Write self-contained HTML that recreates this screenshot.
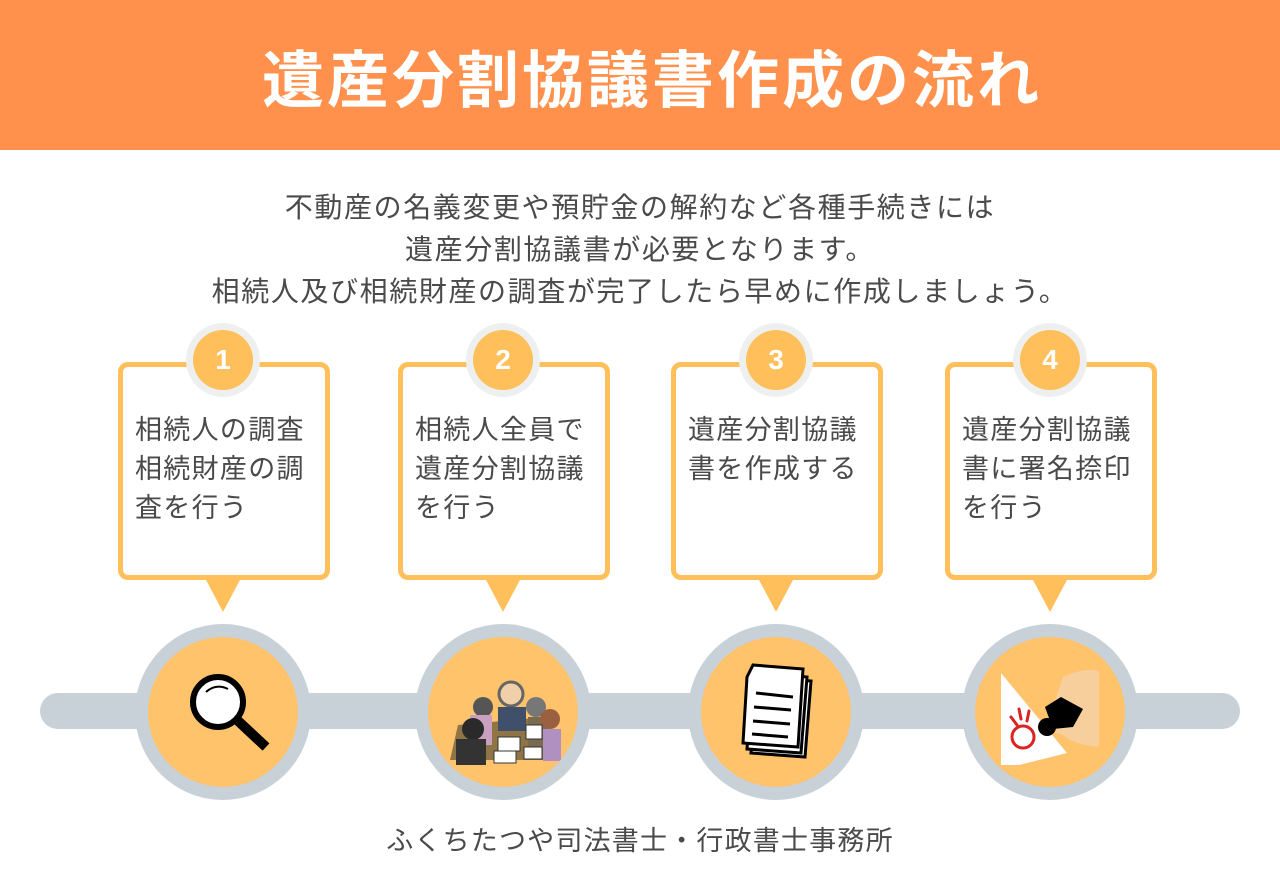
<!DOCTYPE html>
<html><head><meta charset="utf-8">
<style>
*{margin:0;padding:0;box-sizing:border-box}
body{width:1280px;height:878px;background:#fff;position:relative;overflow:hidden;font-family:"Liberation Sans","Noto Sans CJK JP",sans-serif;color:#4a4a4a}
.hdr{position:absolute;left:0;top:0;width:1280px;height:150px;background:#FF914D}
.title{position:absolute;left:12px;top:42px;width:1280px;text-align:center;color:#fff;font-weight:bold;font-size:62px;line-height:80px;letter-spacing:3px}
.intro{position:absolute;left:0;top:187px;width:1280px;text-align:center;font-size:28px;line-height:42px;letter-spacing:1.6px;color:#4a4a4a}
.box{position:absolute;top:362px;width:212px;height:218px;border:5px solid #FFBF5A;border-radius:10px;background:#fff}
.box p{position:absolute;left:12px;top:44px;font-size:27px;line-height:39px;letter-spacing:1.3px;color:#4a4a4a}
.tri{position:absolute;top:578px;width:0;height:0;border-left:18px solid transparent;border-right:18px solid transparent;border-top:34px solid #FFBF5A}
.num{position:absolute;top:323px;width:74px;height:74px;border-radius:50%;background:#eef0f0}
.num span{position:absolute;left:7px;top:7px;width:60px;height:60px;border-radius:50%;background:#FFBF5A;color:#fff;font-weight:bold;font-size:28px;line-height:60px;text-align:center}
.bar{position:absolute;left:40px;top:693px;width:1200px;height:36px;border-radius:18px;background:#C8D0D8}
.circ{position:absolute;top:624px;width:176px;height:176px;border-radius:50%;background:#C8D0D8}
.circ .in{position:absolute;left:13px;top:13px;width:150px;height:150px;border-radius:50%;background:#FFC36B;overflow:hidden}
.foot{position:absolute;left:0;top:821px;width:1280px;text-align:center;font-size:27px;line-height:40px;letter-spacing:1.2px;color:#4a4a4a}
</style></head><body>
<div class="hdr"></div>
<div class="title">遺産分割協議書作成の流れ</div>
<div class="intro">不動産の名義変更や預貯金の解約など各種手続きには<br>遺産分割協議書が必要となります。<br>相続人及び相続財産の調査が完了したら早めに作成しましょう。</div>

<div class="box" style="left:118px"><p>相続人の調査<br>相続財産の調<br>査を行う</p></div>
<div class="box" style="left:398px"><p>相続人全員で<br>遺産分割協議<br>を行う</p></div>
<div class="box" style="left:671px"><p>遺産分割協議<br>書を作成する</p></div>
<div class="box" style="left:945px"><p>遺産分割協議<br>書に署名捺印<br>を行う</p></div>

<div class="tri" style="left:205px"></div>
<div class="tri" style="left:485px"></div>
<div class="tri" style="left:758px"></div>
<div class="tri" style="left:1032px"></div>

<div class="num" style="left:186px"><span>1</span></div>
<div class="num" style="left:466px"><span>2</span></div>
<div class="num" style="left:739px"><span>3</span></div>
<div class="num" style="left:1013px"><span>4</span></div>

<div class="bar"></div>

<div class="circ" style="left:135px"><div class="in">
<svg width="150" height="150" viewBox="0 0 150 150">
<line x1="88" y1="82" x2="118" y2="110" stroke="#000" stroke-width="10" stroke-linecap="butt"/>
<circle cx="70" cy="65" r="25" fill="#fff" stroke="#000" stroke-width="6"/>
<path d="M58 55 Q68 46 80 52" stroke="#000" stroke-width="2" fill="none"/>
</svg></div></div>

<div class="circ" style="left:415px"><div class="in">
<svg width="150" height="150" viewBox="0 0 150 150">
<polygon points="30,88 118,80 128,123 22,123" fill="#8f7445"/>
<circle cx="55" cy="70" r="10" fill="#555"/><rect x="42" y="78" width="22" height="30" fill="#c9a0c0"/>
<circle cx="83" cy="57" r="12" fill="#f0d0a8" stroke="#666" stroke-width="3"/><rect x="70" y="70" width="28" height="24" fill="#40506a"/>
<circle cx="108" cy="70" r="10" fill="#777"/><rect x="100" y="80" width="20" height="30" fill="#7a6a50"/>
<circle cx="122" cy="82" r="10" fill="#9a6040"/><rect x="115" y="92" width="18" height="32" fill="#b090c0"/>
<circle cx="45" cy="92" r="11" fill="#2a2a2a"/><rect x="28" y="102" width="30" height="26" fill="#333"/>
<rect x="70" y="100" width="22" height="14" fill="#fff" stroke="#333"/><rect x="98" y="88" width="16" height="14" fill="#fff" stroke="#333"/>
<rect x="66" y="114" width="22" height="12" fill="#fff" stroke="#333"/><rect x="96" y="110" width="18" height="12" fill="#fff" stroke="#333"/>
</svg></div></div>

<div class="circ" style="left:688px"><div class="in">
<svg width="150" height="150" viewBox="0 0 150 150">
<polygon points="56,40 110,44 104,120 50,116" fill="#fff" stroke="#000" stroke-width="3"/>
<polygon points="52,36 106,40 100,116 46,112" fill="#fff" stroke="#000" stroke-width="3"/>
<polygon points="52,28 102,32 97,110 42,106 46,40" fill="#fff" stroke="#000" stroke-width="3"/>
<line x1="55" y1="56" x2="92" y2="60" stroke="#000" stroke-width="3"/>
<line x1="53" y1="70" x2="90" y2="73" stroke="#000" stroke-width="3"/>
<line x1="52" y1="84" x2="89" y2="87" stroke="#000" stroke-width="3"/>
<line x1="51" y1="97" x2="87" y2="100" stroke="#000" stroke-width="3"/>
</svg></div></div>

<div class="circ" style="left:962px"><div class="in">
<svg width="150" height="150" viewBox="0 0 150 150">
<polygon points="26,36 92,116 44,128 26,128" fill="#fff"/>
<path d="M88 40 Q110 30 124 34 L124 110 Q100 108 88 98 L70 92 Z" fill="#f6cf9c"/>
<path d="M70 70 L86 60 L108 72 L98 90 L78 92 Z" fill="#000"/>
<circle cx="72" cy="90" r="9" fill="#000"/>
<circle cx="48" cy="100" r="11" fill="none" stroke="#d22" stroke-width="3"/>
<path d="M36 80 l6 8 M44 72 l2 10 M54 74 l-2 10" stroke="#d22" stroke-width="3" stroke-linecap="round"/>
</svg></div></div>

<div class="foot">ふくちたつや司法書士・行政書士事務所</div>
</body></html>
